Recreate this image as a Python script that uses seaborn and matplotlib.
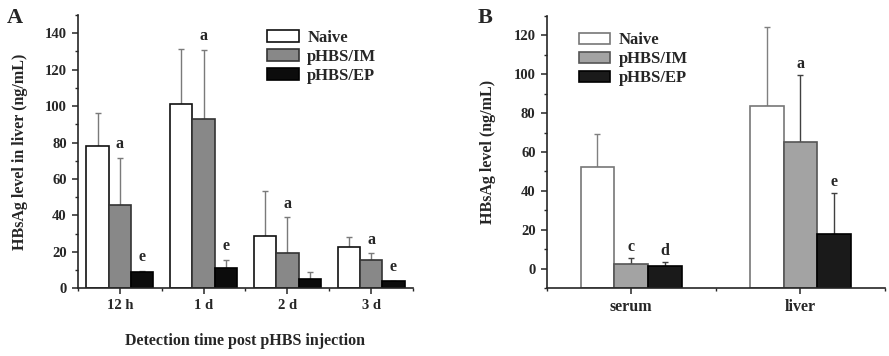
import numpy as np
import pandas as pd
import matplotlib
matplotlib.use('Agg')
import matplotlib.pyplot as plt
import seaborn as sns
from matplotlib.patches import Patch
from matplotlib.ticker import MultipleLocator, FixedLocator

# --------------data--------------
groups = ['Naive', 'pHBS/IM', 'pHBS/EP']

# panel A: liver HBsAg over time
times = ['12 h', '1 d', '2 d', '3 d']
liver_naive = [78.3, 100.9, 28.6, 22.9]
liver_im = [45.5, 93.0, 19.3, 15.8]
liver_ep = [8.8, 11.2, 5.0, 4.0]
liver_naive_sd = [18.0, 30.3, 24.6, 5.5]
liver_im_sd = [26.1, 37.8, 19.6, 3.5]
liver_ep_sd = [0.9, 4.4, 4.2, 0.3]
letters_a_im = ['a', 'a', 'a', 'a']
letters_a_ep = ['e', 'e', '', 'e']

# panel B: serum vs liver
sites = ['serum', 'liver']
site_naive = [52.1, 83.7]
site_im = [2.6, 65.1]
site_ep = [1.2, 17.7]
site_naive_sd = [17.3, 40.6]
site_im_sd = [3.1, 34.5]
site_ep_sd = [2.2, 21.4]
letters_b_im = ['c', 'a']
letters_b_ep = ['d', 'e']

# --------------styling--------------
sns.set_style('ticks')
plt.rcParams['font.family'] = ['Liberation Serif', 'DejaVu Serif']
plt.rcParams['font.weight'] = 'bold'
plt.rcParams['axes.labelweight'] = 'bold'

fill_a = {'Naive': '#ffffff', 'pHBS/IM': '#888888', 'pHBS/EP': '#0c0c0c'}
edge_a = {'Naive': '#111111', 'pHBS/IM': '#333333', 'pHBS/EP': '#000000'}
err_a = {'Naive': '#7a7a7a', 'pHBS/IM': '#7a7a7a', 'pHBS/EP': '#7a7a7a'}

fill_b = {'Naive': '#ffffff', 'pHBS/IM': '#a3a3a3', 'pHBS/EP': '#1a1a1a'}
edge_b = {'Naive': '#777777', 'pHBS/IM': '#555555', 'pHBS/EP': '#000000'}
err_b = {'Naive': '#808080', 'pHBS/IM': '#404040', 'pHBS/EP': '#404040'}


def long_frame(cats, vals, sds, letters):
    rows = []
    for g, v, s, l in zip(groups, vals, sds, letters):
        for c, vv, ss, ll in zip(cats, v, s, l):
            rows.append({'cat': c, 'group': g, 'value': vv, 'sd': ss, 'letter': ll})
    return pd.DataFrame(rows)


def draw_panel(ax, df, cats, width, fills, edges, errs, letter_pad, base=0):
    sns.barplot(data=df, x='cat', y='value', hue='group', order=cats,
                hue_order=groups, palette=fills, width=width, errorbar=None,
                saturation=1, legend=False, ax=ax, linewidth=1.2, zorder=2)
    for g, cont in zip(groups, ax.containers):
        sub = df[df['group'] == g].set_index('cat').loc[cats]
        xs = [b.get_x() + b.get_width() / 2 for b in cont]
        for b in cont:
            b.set_edgecolor(edges[g])
            # Origin-style bars start at the bottom of the axis
            if base != 0:
                b.set_height(b.get_y() + b.get_height() - base)
                b.set_y(base)
        ax.errorbar(xs, sub['value'], yerr=[np.zeros(len(xs)), sub['sd']],
                    fmt='none', ecolor=errs[g], elinewidth=1.0, capsize=2,
                    capthick=1.0, zorder=1)
        for x, top, lt in zip(xs, sub['value'] + sub['sd'], sub['letter']):
            if lt:
                ax.annotate(lt, (x, top), xytext=(0, letter_pad),
                            textcoords='offset points', ha='center', va='bottom',
                            fontsize=11.5, fontweight='bold')
    sns.despine(ax=ax)
    ax.set_xlim(-0.5, len(cats) - 0.5)
    ax.xaxis.set_minor_locator(FixedLocator(np.arange(len(cats) + 1) - 0.5))
    ax.yaxis.set_minor_locator(MultipleLocator(10))
    ax.yaxis.set_major_locator(MultipleLocator(20))
    ax.tick_params(axis='both', which='major', direction='out', length=4,
                   width=1.1, labelsize=10.5, pad=4)
    ax.tick_params(axis='both', which='minor', direction='out', length=2.5, width=1.0)
    for s in ax.spines.values():
        s.set_linewidth(1.2)
    for lab in ax.get_xticklabels() + ax.get_yticklabels():
        lab.set_fontweight('bold')
    handles = [Patch(facecolor=fills[g], edgecolor=edges[g], linewidth=1.2) for g in groups]
    return handles


fig = plt.figure(figsize=(8.89, 3.56), dpi=100)
ax_a = fig.add_axes([0.0877, 0.190, 0.3769, 0.768])
ax_b = fig.add_axes([0.615, 0.191, 0.3805, 0.764])

df_a = long_frame(times, [liver_naive, liver_im, liver_ep],
                  [liver_naive_sd, liver_im_sd, liver_ep_sd],
                  [['', '', '', ''], letters_a_im, letters_a_ep])
h_a = draw_panel(ax_a, df_a, times, 0.8, fill_a, edge_a, err_a, 4)
ax_a.set_ylim(0, 150)
ax_a.set_xlabel('Detection time post pHBS injection', fontsize=11.5, labelpad=15)
ax_a.set_ylabel('HBsAg level in liver (ng/mL)', fontsize=11.5, labelpad=12)
ax_a.legend(h_a, groups, loc='upper left', bbox_to_anchor=(0.52, 1.0),
            frameon=False, handlelength=1.9, handleheight=0.7,
            labelspacing=0.18, handletextpad=0.5, prop={'size': 12, 'weight': 'bold'})

df_b = long_frame(sites, [site_naive, site_im, site_ep],
                  [site_naive_sd, site_im_sd, site_ep_sd],
                  [['', ''], letters_b_im, letters_b_ep])
h_b = draw_panel(ax_b, df_b, sites, 0.6, fill_b, edge_b, err_b, 2, base=-10)
ax_b.set_ylim(-10, 130)
ax_b.set_yticks(np.arange(0, 121, 20))
ax_b.set_xlabel('')
ax_b.set_ylabel('HBsAg level (ng/mL)', fontsize=11.5, labelpad=13)
ax_b.tick_params(axis='x', labelsize=11.5)
ax_b.legend(h_b, groups, loc='upper left', bbox_to_anchor=(0.05, 0.995),
            frameon=False, handlelength=1.9, handleheight=0.7,
            labelspacing=0.18, handletextpad=0.5, prop={'size': 12, 'weight': 'bold'})

fig.text(0.008, 0.95, 'A', fontsize=16, fontweight='bold', va='center')
fig.text(0.537, 0.95, 'B', fontsize=16, fontweight='bold', va='center')

fig.savefig('out.png', dpi=100)
